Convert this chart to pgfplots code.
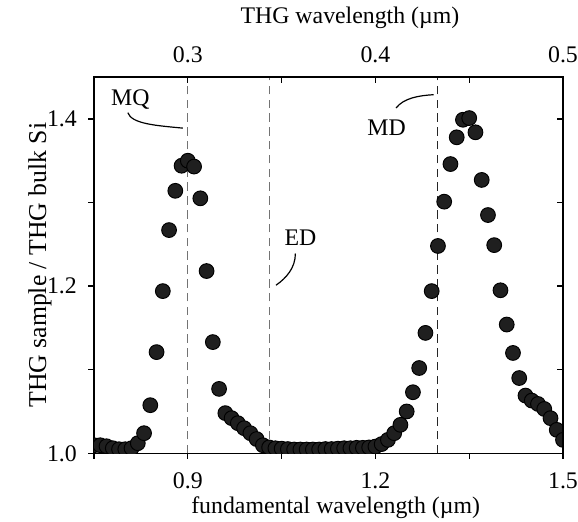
\documentclass[border=0pt]{standalone}
\usepackage{fontspec}
\setmainfont{Liberation Serif}
\usepackage{pgfplots}
\usepackage{pgfplotstable}
\pgfplotsset{compat=1.18}

\pgfplotstableread{
x y
0.75 1.0096
0.76 1.0096
0.77 1.0084
0.78 1.0060
0.79 1.0048
0.80 1.0048
0.81 1.0060
0.82 1.0120
0.83 1.0240
0.84 1.0575
0.85 1.1210
0.86 1.1940
0.87 1.2670
0.88 1.3140
0.89 1.3440
0.90 1.3500
0.91 1.3430
0.92 1.3050
0.93 1.2180
0.94 1.1330
0.95 1.0770
0.96 1.0480
0.97 1.0420
0.98 1.0360
0.99 1.0300
1.00 1.0240
1.01 1.0170
1.02 1.0096
1.03 1.0070
1.04 1.0060
1.05 1.0055
1.06 1.0050
1.07 1.0045
1.08 1.0045
1.09 1.0045
1.10 1.0045
1.11 1.0045
1.12 1.0050
1.13 1.0050
1.14 1.0055
1.15 1.0060
1.16 1.0060
1.17 1.0065
1.18 1.0065
1.19 1.0070
1.20 1.0080
1.21 1.0110
1.22 1.0160
1.23 1.0240
1.24 1.0340
1.25 1.0500
1.26 1.0730
1.27 1.1020
1.28 1.1440
1.29 1.1940
1.30 1.2480
1.31 1.3010
1.32 1.3460
1.33 1.3780
1.34 1.3990
1.35 1.4010
1.36 1.3840
1.37 1.3270
1.38 1.2850
1.39 1.2490
1.40 1.1950
1.41 1.1540
1.42 1.1200
1.43 1.0900
1.44 1.0690
1.45 1.0630
1.46 1.0590
1.47 1.0530
1.48 1.0420
1.49 1.0280
1.50 1.0160
}\thgdata

\begin{document}
\begin{tikzpicture}
\begin{axis}[
  name=main,
  width=197pt, height=158pt, scale only axis,
  xmin=0.75, xmax=1.5, ymin=1.0, ymax=1.45,
  xtick={0.9,1.2,1.5}, minor xtick={0.75,1.05,1.35},
  ytick={1.0,1.2,1.4}, minor ytick={1.1,1.3},
  xtick pos=left, ytick pos=left,
  tick align=outside,
  major tick length=2.4pt, minor tick length=2.4pt,
  every tick/.style={black, line width=0.5pt},
  axis line style={line width=0.6pt},
  /pgf/number format/.cd, fixed, fixed zerofill, precision=1, assume math mode=true,
  /pgfplots/.cd,
  every y tick label/.append style={xshift=-1.3pt},
  every x tick label/.append style={yshift=-2.2pt},
  xlabel={fundamental wavelength (µm)},
  ylabel={THG sample / THG bulk Si},
  every axis x label/.style={at={(rel axis cs:0.5,0)}, anchor=center, yshift=-23pt, xshift=3pt},
  every axis y label/.style={at={(rel axis cs:0,0.5)}, xshift=-22.7pt, rotate=90, anchor=center, font=\fontsize{10.8pt}{13pt}\selectfont},
  clip=true, clip marker paths=true,
]
\addplot[black!55, dash pattern=on 3.6pt off 2.2pt, line width=0.5pt] coordinates {(0.9,1.0) (0.9,1.45)};
\addplot[black!55, dash pattern=on 3.6pt off 2.2pt, line width=0.5pt] coordinates {(1.03,1.0) (1.03,1.45)};
\addplot[black!85, dash pattern=on 3.6pt off 2.2pt, line width=0.45pt] coordinates {(1.3,1.0) (1.3,1.45)};
\addplot[only marks, mark=*, mark size=3.1pt, draw=none, mark options={draw=none, fill=black!88}] table[x=x, y=y] {\thgdata};
\node at (axis cs:0.808,1.423) {MQ};
\draw[line width=0.5pt] (axis cs:0.804,1.4075) .. controls (axis cs:0.81,1.394) and (axis cs:0.85,1.392) .. (axis cs:0.892,1.389);
\node at (axis cs:1.080,1.2575) {ED};
\draw[line width=0.5pt] (axis cs:1.072,1.239) .. controls (axis cs:1.072,1.222) and (axis cs:1.058,1.21) .. (axis cs:1.041,1.201);
\node at (axis cs:1.218,1.390) {MD};
\draw[line width=0.5pt] (axis cs:1.233,1.413) .. controls (axis cs:1.245,1.425) and (axis cs:1.27,1.428) .. (axis cs:1.293,1.429);
\end{axis}
\begin{axis}[
  width=197pt, height=158pt, scale only axis,
  xmin=0.25, xmax=0.5, ymin=1.0, ymax=1.45,
  axis x line*=top, axis y line*=right,
  axis line style={-, line width=0.6pt},
  xtick={0.3,0.4,0.5}, minor xtick={0.35,0.45},
  ytick={1.0,1.2,1.4}, minor ytick={1.1,1.3},
  yticklabels={},
  every y tick label/.append style={overlay},
  every x tick label/.append style={yshift=2.5pt},
  tick align=inside,
  major tick length=2.4pt, minor tick length=2.4pt,
  every tick/.style={black, line width=0.5pt},
  /pgf/number format/.cd, fixed, fixed zerofill, precision=1, assume math mode=true,
  /pgfplots/.cd,
  xlabel={THG wavelength (µm)},
  every axis x label/.style={at={(rel axis cs:0.5,1)}, anchor=center, yshift=24.8pt, xshift=9pt},
]
\addplot[draw=none] coordinates {(0.3,1.1)};
\end{axis}
\pgfresetboundingbox
\path[use as bounding box] ([xshift=-39.5pt, yshift=-28.6pt]main.south west) rectangle ([xshift=6.3pt, yshift=32.4pt]main.north east);
\end{tikzpicture}
\end{document}
